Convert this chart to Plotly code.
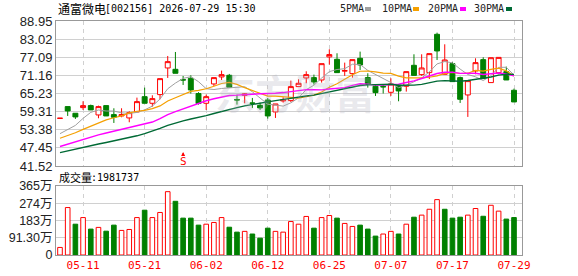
import plotly.graph_objects as go

# ---------------- data ----------------
dates = ["05-06", "05-07", "05-08", "05-11", "05-12", "05-13", "05-14", "05-15", "05-18", "05-19",
         "05-20", "05-21", "05-22", "05-25", "05-26", "05-27", "05-28", "05-29", "06-01", "06-02",
         "06-03", "06-04", "06-05", "06-08", "06-09", "06-10", "06-11", "06-12", "06-15", "06-16",
         "06-17", "06-18", "06-22", "06-23", "06-24", "06-25", "06-26", "06-29", "06-30", "07-01",
         "07-02", "07-03", "07-06", "07-07", "07-08", "07-09", "07-10", "07-13", "07-14", "07-15",
         "07-16", "07-17", "07-20", "07-21", "07-22", "07-23", "07-24", "07-27", "07-28", "07-29"]

opens = [57.10, 60.95, 58.77, 60.62, 61.27, 58.22, 61.27, 58.33, 57.89, 57.24,
         59.20, 64.20, 62.04, 64.87, 73.59, 73.15, 69.75, 70.21, 65.23, 62.04,
         68.36, 70.65, 71.19, 63.25, 64.65, 62.15, 61.38, 63.12, 59.20, 62.80,
         62.91, 67.49, 70.32, 70.43, 69.66, 77.20, 76.42, 72.55, 71.74, 76.75,
         70.43, 67.60, 67.55, 65.63, 67.92, 67.60, 74.46, 71.41, 72.06, 84.60,
         71.52, 75.00, 70.43, 64.76, 72.61, 76.31, 68.80, 72.06, 72.39, 66.29]
highs = [57.15, 60.95, 58.77, 62.69, 61.60, 61.27, 61.27, 60.40, 60.40, 59.42,
         63.89, 67.16, 64.65, 70.10, 77.51, 78.82, 70.97, 71.19, 65.66, 64.87,
         70.43, 72.72, 71.63, 64.87, 65.23, 63.78, 62.25, 63.78, 61.82, 64.00,
         69.45, 69.88, 72.50, 71.41, 75.00, 79.69, 78.39, 75.33, 76.31, 78.93,
         71.85, 68.25, 68.25, 70.21, 68.25, 72.39, 78.06, 78.06, 78.28, 85.14,
         81.33, 75.55, 70.76, 69.45, 76.75, 77.08, 76.95, 77.05, 74.03, 66.83]
lows = [57.10, 57.89, 56.91, 59.86, 59.86, 57.13, 57.89, 55.60, 57.46, 55.82,
        59.20, 62.04, 60.95, 63.34, 70.32, 71.85, 68.03, 65.23, 61.60, 59.86,
        67.70, 69.66, 67.05, 61.60, 62.04, 60.51, 59.86, 57.02, 57.24, 62.25,
        62.47, 67.49, 68.58, 68.14, 68.80, 74.68, 72.06, 71.00, 70.43, 72.94,
        67.16, 64.43, 65.23, 64.43, 62.69, 65.85, 71.16, 71.00, 69.99, 76.20,
        71.52, 69.12, 62.14, 57.57, 71.52, 70.10, 68.80, 71.52, 69.66, 62.47]
closes = [57.15, 59.53, 57.57, 61.27, 59.86, 60.95, 57.89, 57.46, 58.33, 58.98,
          62.58, 62.04, 63.56, 70.10, 75.66, 71.85, 69.66, 66.40, 61.95, 64.20,
          70.43, 71.41, 67.27, 63.12, 65.09, 62.04, 60.51, 57.89, 61.82, 63.23,
          67.49, 68.58, 71.41, 69.01, 75.00, 77.97, 72.06, 72.72, 76.31, 74.57,
          68.25, 65.52, 67.40, 68.36, 66.07, 72.39, 71.16, 73.59, 78.28, 79.15,
          76.20, 69.12, 63.34, 69.45, 75.33, 70.10, 76.95, 77.05, 69.66, 62.47]

# volume in 万股
volumes = [40, 251, 163, 198, 137, 146, 126, 158, 130, 135,
           198, 237, 198, 225, 335, 284, 195, 195, 158, 163,
           172, 198, 147, 121, 125, 111, 89, 142, 125, 121,
           177, 163, 204, 142, 198, 209, 195, 167, 151, 158,
           137, 100, 111, 125, 111, 163, 200, 211, 242, 293,
           242, 195, 200, 211, 246, 205, 263, 232, 190, 198.17]

ma5 = [52.1, 53.5, 54.8, 57.1, 59.07, 59.84, 59.51, 59.49, 58.90, 58.72,
       59.05, 59.88, 61.10, 63.45, 66.79, 68.64, 70.17, 70.73, 69.10, 66.81,
       66.53, 66.88, 67.05, 67.29, 67.46, 65.79, 63.61, 61.73, 61.47, 61.10,
       62.19, 63.80, 66.51, 67.94, 70.30, 72.39, 73.09, 73.35, 74.81, 74.73,
       72.78, 71.47, 70.41, 68.82, 67.12, 67.95, 69.08, 70.31, 72.30, 74.91,
       75.68, 75.27, 73.22, 71.45, 70.69, 69.47, 71.03, 73.78, 73.82, 71.25]
ma10 = [50.6, 51.4, 52.4, 53.5, 54.6, 55.6, 56.6, 57.3, 57.9, 58.90,
        59.44, 59.69, 60.29, 61.18, 62.76, 63.85, 65.02, 65.92, 66.28, 66.80,
        67.59, 68.52, 68.89, 68.20, 67.14, 66.16, 65.24, 64.39, 64.38, 64.28,
        63.99, 63.70, 64.12, 64.71, 65.70, 67.29, 68.45, 69.93, 71.38, 72.51,
        72.59, 72.28, 71.88, 71.82, 70.92, 70.37, 70.28, 70.36, 70.56, 71.02,
        71.81, 72.17, 71.77, 71.88, 72.80, 72.57, 73.15, 73.50, 72.64, 70.97]
ma20 = [47.9, 48.7, 49.4, 50.2, 51.0, 51.7, 52.3, 52.9, 53.4, 53.9,
        54.5, 55.1, 55.9, 57.0, 58.3, 59.3, 60.2, 61.0, 61.9, 62.85,
        63.51, 64.11, 64.59, 64.69, 64.95, 65.00, 65.13, 65.15, 65.33, 65.54,
        65.79, 66.11, 66.51, 66.45, 66.42, 66.72, 66.84, 67.16, 67.88, 68.40,
        68.29, 67.99, 68.00, 68.26, 68.31, 68.83, 69.36, 70.15, 70.97, 71.76,
        72.20, 72.23, 71.82, 71.85, 71.86, 71.47, 71.71, 71.93, 71.60, 70.99]
ma30 = [45.9, 46.5, 47.0, 47.6, 48.1, 48.7, 49.2, 49.7, 50.2, 50.8,
        51.4, 52.1, 52.9, 53.8, 54.8, 55.6, 56.3, 56.9, 57.4, 58.0,
        58.7, 59.4, 60.0, 60.6, 61.2, 61.7, 62.1, 62.5, 62.9, 63.33,
        63.67, 63.97, 64.43, 64.69, 65.20, 65.76, 66.24, 66.75, 67.34, 67.86,
        68.05, 68.17, 68.30, 68.24, 67.92, 67.94, 67.99, 68.23, 68.77, 69.27,
        69.46, 69.39, 69.26, 69.47, 69.81, 70.08, 70.62, 71.26, 71.52, 71.50]

price_ticks = [41.52, 47.45, 53.38, 59.31, 65.23, 71.16, 77.09, 83.02, 88.95]
vol_ticks = [0, 91.30, 183, 274, 365]
vol_tick_text = ["0", "91.30万", "183万", "274万", "365万"]
date_ticks = ["05-11", "05-21", "06-02", "06-12", "06-25", "07-07", "07-17", "07-29"]
ma_names = ["5PMA", "10PMA", "20PMA", "30PMA"]
title_name = "通富微电"
title_info = "[002156] 2026-07-29 15:30"
vol_label = "成交量"
vol_last = ":1981737"
signal_date = "05-28"
signal_text = "S"
watermark = "东方财富"

# ---------------- style ----------------
W, H = 578, 276
L, R, T, B = 56, 56, 21, 21
RED = "#ff0000"
GREEN = "#008000"
MA_COLORS = ["#a0a0a0", "#f5a000", "#ff00ff", "#006a35"]
MA_WIDTHS = [1.0, 1.2, 1.4, 1.4]
GRID = "#d0d0d0"
FRAME = "#999999"
MONO = "DejaVu Sans Mono"
CJK = "Noto Sans CJK SC"


def px_x(px):
    return (px - L) / (W - L - R)


def px_y(py):
    return (H - B - py) / (H - T - B)


fig = go.Figure()
fig.add_trace(go.Candlestick(
    x=dates, open=opens, high=highs, low=lows, close=closes,
    increasing=dict(line=dict(color=RED, width=1), fillcolor="white"),
    decreasing=dict(line=dict(color=GREEN, width=1), fillcolor=GREEN),
    whiskerwidth=0, xaxis="x", yaxis="y", showlegend=False, hoverinfo="skip"))

for vals, color, w in zip([ma5, ma10, ma20, ma30], MA_COLORS, MA_WIDTHS):
    fig.add_trace(go.Scatter(x=dates, y=vals, mode="lines",
                             line=dict(color=color, width=w),
                             xaxis="x", yaxis="y", showlegend=False, hoverinfo="skip"))

up = [True] + [closes[i] >= closes[i - 1] for i in range(1, len(closes))]
fig.add_trace(go.Bar(
    x=dates, y=volumes, width=0.6,
    marker=dict(color=["white" if u else GREEN for u in up],
                line=dict(color=[RED if u else GREEN for u in up], width=1)),
    xaxis="x2", yaxis="y2", showlegend=False, hoverinfo="skip"))

main_bottom = px_y(166)
vol_top = px_y(186)
xrange = [-0.52, len(dates) - 1 + 1.04]

common_x = dict(type="category", range=xrange, tickmode="array", tickvals=date_ticks,
                showgrid=True, gridcolor=GRID, griddash="4px,4px", gridwidth=1,
                showline=True, mirror=True, linecolor=FRAME, linewidth=1,
                zeroline=False, ticks="", fixedrange=True, automargin=False)
common_y = dict(showgrid=True, gridcolor=GRID, gridwidth=1, showline=True, mirror=True,
                linecolor=FRAME, linewidth=1, zeroline=False, ticks="", fixedrange=True,
                automargin=False)

fig.update_layout(
    width=W, height=H, margin=dict(l=L, r=R, t=T, b=B, pad=0, autoexpand=False),
    paper_bgcolor="white", plot_bgcolor="white",
    boxgap=0.36, boxgroupgap=0, showlegend=False, hovermode=False,
    xaxis=dict(domain=[0, 1], anchor="y", showticklabels=False,
               rangeslider=dict(visible=False), **common_x),
    xaxis2=dict(domain=[0, 1], anchor="y2",
                tickfont=dict(family=MONO, size=11, color=RED), **common_x),
    yaxis=dict(domain=[main_bottom, 1], range=[price_ticks[0], price_ticks[-1]],
               tickmode="array", tickvals=price_ticks,
               ticktext=[f"{v:.2f}" for v in price_ticks],
               tickfont=dict(family="Liberation Sans", size=13, color="#222"), **common_y),
    yaxis2=dict(domain=[0, vol_top], range=[vol_ticks[0], vol_ticks[-1]],
                tickmode="array", tickvals=vol_ticks, ticktext=vol_tick_text,
                tickfont=dict(family="Liberation Sans, " + CJK, size=12.5, color="#222"),
                **common_y),
)

ann = []
# title
ann.append(dict(x=px_x(56), y=px_y(9), xref="paper", yref="paper", xanchor="left", yanchor="middle",
                text=title_name, showarrow=False, font=dict(family=CJK, size=12, color="#000")))
ann.append(dict(x=px_x(103), y=px_y(9), xref="paper", yref="paper", xanchor="left", yanchor="middle",
                text=title_info, showarrow=False, font=dict(family=MONO, size=10, color="#000")))
# legend
leg_text_x = [338, 380, 426, 472]
leg_sq_x = [365, 413, 460, 506]
shapes = []
for name, tx, sx, c in zip(ma_names, leg_text_x, leg_sq_x, MA_COLORS):
    ann.append(dict(x=px_x(tx), y=px_y(9), xref="paper", yref="paper", xanchor="left",
                    yanchor="middle", text=name, showarrow=False,
                    font=dict(family=MONO, size=10, color="#222")))
    shapes.append(dict(type="rect", xref="paper", yref="paper",
                       x0=px_x(sx), x1=px_x(sx + 6), y0=px_y(11), y1=px_y(7),
                       fillcolor=c, line=dict(width=0)))
# volume label
ann.append(dict(x=px_x(57), y=px_y(177), xref="paper", yref="paper", xanchor="left", yanchor="middle",
                text=vol_label, showarrow=False, font=dict(family=CJK, size=11, color="#000")))
ann.append(dict(x=px_x(89), y=px_y(177), xref="paper", yref="paper", xanchor="left", yanchor="middle",
                text=vol_last, showarrow=False, font=dict(family=MONO, size=10, color="#000")))
# watermark
ann.append(dict(x=px_x(295), y=px_y(92), xref="paper", yref="paper", xanchor="center", yanchor="middle",
                text="<b>" + watermark + "</b>", showarrow=False,
                font=dict(family=CJK, size=40, color="rgba(170,170,185,0.26)")))
# signal marker
ann.append(dict(x=signal_date, y=px_y(161), xref="x", yref="paper", xanchor="center", yanchor="middle",
                text=signal_text, showarrow=False, font=dict(family=MONO, size=11, color=RED)))
ann.append(dict(x=signal_date, y=px_y(152), xref="x", yref="paper", text="", showarrow=True,
                ax=0, ay=5, arrowhead=2, arrowsize=0.8, arrowwidth=1, arrowcolor=RED, standoff=0))

fig.update_layout(annotations=ann, shapes=shapes)
fig.write_html("out.html")
